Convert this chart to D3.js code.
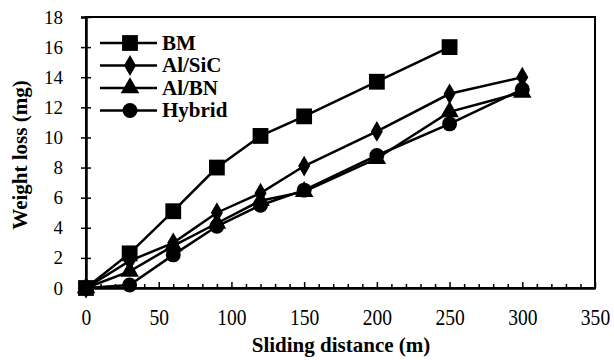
<!DOCTYPE html>
<html lang="en">
<head>
  <meta charset="utf-8" />
  <title>Weight loss vs sliding distance</title>
  <script src="https://d3js.org/d3.v7.min.js"></script>
  <style>
    body { margin: 0; background: #fff; }
  </style>
</head>
<body>
  <svg id="chart" width="614" height="360"></svg>
  <script>
    // data
    const distance = [0, 30, 60, 90, 120, 150, 200, 250, 300];
    const bm = [0, 2.3, 5.1, 8.0, 10.1, 11.4, 13.7, 16.0];
    const alSiC = [0, 1.8, 3.0, 5.0, 6.3, 8.1, 10.4, 12.9, 14.0];
    const alBN = [0, 1.1, 2.8, 4.3, 5.8, 6.4, 8.6, 11.7, 13.0];
    const hybrid = [0, 0.2, 2.2, 4.1, 5.5, 6.5, 8.8, 10.9, 13.2];
    const seriesNames = ["BM", "Al/SiC", "Al/BN", "Hybrid"];
    const seriesValues = [bm, alSiC, alBN, hybrid];
    const shapes = [d3.symbolSquare, d3.symbolDiamond, d3.symbolTriangle, d3.symbolCircle];
    const sizes = [250, 125, 150, 175];
    const xTicks = [0, 50, 100, 150, 200, 250, 300, 350];
    const yTicks = [0, 2, 4, 6, 8, 10, 12, 14, 16, 18];

    const FONT = "Liberation Serif";
    const svg = d3.select("#chart");
    const mLeft = 86, mRight = 595, mTop = 17, mBottom = 288;

    const x = d3.scaleLinear().domain([0, 350]).range([mLeft, mRight]);
    const y = d3.scaleLinear().domain([0, 18]).range([mBottom, mTop]);

    // frame
    svg.append("rect")
      .attr("x", mLeft).attr("y", mTop)
      .attr("width", mRight - mLeft).attr("height", mBottom - mTop)
      .attr("fill", "none").attr("stroke", "#000").attr("stroke-width", 2);

    // x axis: inward ticks, minor every 10
    const xAxis = svg.append("g").attr("transform", `translate(0,${mBottom})`);
    xAxis.call(d3.axisBottom(x).tickValues(d3.range(0, 351, 10)).tickSize(0).tickFormat(""));
    xAxis.selectAll(".tick line")
      .attr("y2", d => d % 50 === 0 ? -6 : -4)
      .attr("stroke-width", 1.5);
    xAxis.select(".domain").attr("stroke-width", 2.5);
    const xLab = svg.append("g").attr("transform", `translate(0,${mBottom})`)
      .call(d3.axisBottom(x).tickValues(xTicks).tickSize(0))
      .attr("font-family", FONT).attr("font-size", 23);
    xLab.select(".domain").remove();
    xLab.selectAll(".tick text")
      .attr("y", 37).attr("dy", 0)
      .attr("transform", "scale(0.85,1)");

    // y axis: ticks crossing the axis line
    const yAxis = svg.append("g").attr("transform", `translate(${mLeft},0)`)
      .call(d3.axisLeft(y).tickValues(yTicks).tickSize(5).tickPadding(18))
      .attr("font-family", FONT).attr("font-size", 19);
    yAxis.select(".domain").attr("stroke-width", 2.5);
    yAxis.selectAll(".tick line").attr("x1", 5).attr("stroke-width", 1.5);

    // series
    const line = d3.line().x((d, i) => x(distance[i])).y(d => y(d));
    seriesValues.forEach((vals, s) => {
      svg.append("path")
        .attr("d", line(vals))
        .attr("fill", "none").attr("stroke", "#000").attr("stroke-width", 2.5);
    });
    seriesValues.forEach((vals, s) => {
      svg.selectAll(null)
        .data(vals)
        .enter()
        .append("path")
        .attr("d", d3.symbol().type(shapes[s]).size(sizes[s]))
        .attr("transform", (d, i) => `translate(${x(distance[i])},${y(d)})`)
        .attr("fill", "#000");
    });

    // legend
    const legend = svg.append("g").attr("font-family", FONT);
    seriesNames.forEach((name, s) => {
      const ly = 43 + s * 22.5;
      legend.append("line")
        .attr("x1", 100).attr("x2", 157).attr("y1", ly).attr("y2", ly)
        .attr("stroke", "#000").attr("stroke-width", 2.5);
      legend.append("path")
        .attr("d", d3.symbol().type(shapes[s]).size(sizes[s]))
        .attr("transform", `translate(130,${ly})`)
        .attr("fill", "#000");
      legend.append("text")
        .attr("x", 162).attr("y", ly + 6.5)
        .attr("font-size", 21).attr("font-weight", "bold")
        .text(name);
    });

    // axis titles
    svg.append("text")
      .attr("x", 341).attr("y", 352)
      .attr("text-anchor", "middle").attr("font-family", FONT)
      .attr("font-size", 21).attr("font-weight", "bold")
      .text("Sliding distance (m)");
    svg.append("text")
      .attr("transform", "translate(27,155) rotate(-90)")
      .attr("text-anchor", "middle").attr("font-family", FONT)
      .attr("font-size", 21).attr("font-weight", "bold")
      .text("Weight loss (mg)");
  </script>
</body>
</html>
